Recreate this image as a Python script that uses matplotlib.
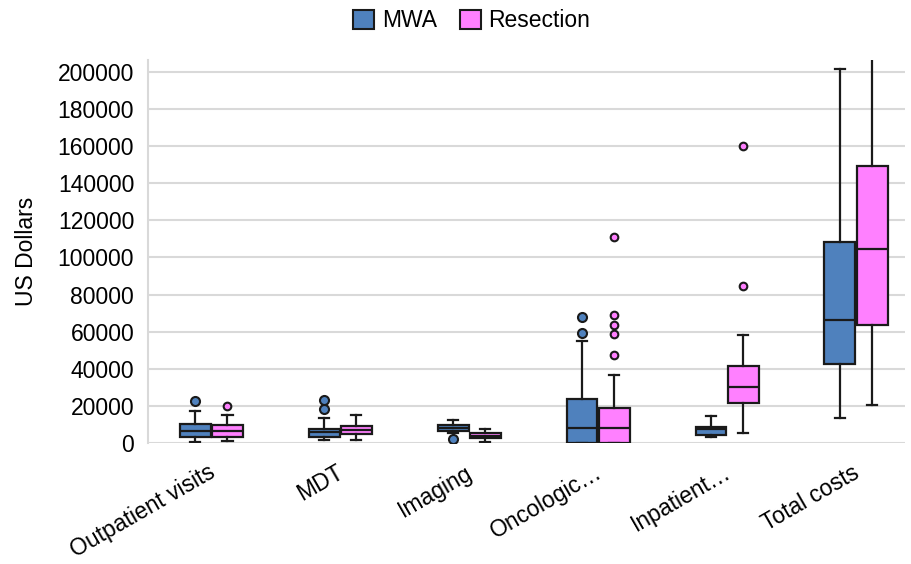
import matplotlib
matplotlib.use("Agg")
import matplotlib.pyplot as plt
import matplotlib.transforms as mtransforms
from matplotlib.patches import Patch
import numpy as np

plt.rcParams['font.family'] = ['Liberation Sans', 'DejaVu Sans']

categories = ['Outpatient visits', 'MDT', 'Imaging', 'Oncologic…', 'Inpatient…', 'Total costs']

# MWA summary stats
mwa_whislo = [500, 1600, 5500, 0, 3100, 13700]
mwa_q1 = [3200, 3100, 6600, 0, 4300, 42700]
mwa_med = [6500, 5800, 8300, 8100, 7700, 66500]
mwa_q3 = [10300, 7600, 9700, 23600, 8800, 108100]
mwa_whishi = [17300, 13700, 12300, 55100, 14800, 201600]
mwa_fliers = [[22700], [18200, 23200], [2000], [59300, 67700], [], []]

# Resection summary stats
res_whislo = [1200, 1600, 500, 0, 5600, 20400]
res_q1 = [3400, 4700, 2500, 0, 21400, 63600]
res_med = [6600, 7000, 4000, 8100, 30100, 104700]
res_q3 = [9900, 9200, 5600, 18900, 41300, 149000]
res_whishi = [15300, 15300, 7800, 36400, 58000, 230000]
res_fliers = [[20000], [], [], [47600, 58800, 63600, 68800, 111000], [84700, 160000], []]

mwa_color = '#4f81bd'
res_color = '#ff80ff'
edge = '#1a1a1a'
FS = 16.5


def make_stats(lo, q1, med, q3, hi, fl):
    return [dict(whislo=lo[i], q1=q1[i], med=med[i], q3=q3[i], whishi=hi[i],
                 fliers=fl[i]) for i in range(len(lo))]


fig = plt.figure(figsize=(9.11, 5.64), dpi=100)
ax = fig.add_axes([0.1625, 0.2145, 0.831, 0.6795])

x = np.arange(len(categories))
off = 0.125
w = 0.24

for stats, pos, color, ms in [
        (make_stats(mwa_whislo, mwa_q1, mwa_med, mwa_q3, mwa_whishi, mwa_fliers), x - off, mwa_color, 6.5),
        (make_stats(res_whislo, res_q1, res_med, res_q3, res_whishi, res_fliers), x + off, res_color, 5.5)]:
    ax.bxp(stats, positions=pos, widths=w, patch_artist=True,
           boxprops=dict(facecolor=color, edgecolor=edge, linewidth=1.6),
           medianprops=dict(color=edge, linewidth=1.6),
           whiskerprops=dict(color=edge, linewidth=1.6),
           capprops=dict(color=edge, linewidth=1.6),
           capwidths=0.08,
           flierprops=dict(marker='o', markerfacecolor=color, markeredgecolor=edge,
                           markersize=ms, markeredgewidth=1.5),
           manage_ticks=False, zorder=3)

ax.set_xlim(-0.49, 5.38)
ax.set_ylim(0, 206500)
ax.set_yticks(np.arange(0, 200001, 20000))
ax.set_yticklabels([str(v) for v in range(0, 200001, 20000)], fontsize=FS)
ax.set_xticks(x)
ax.set_xticklabels(categories, fontsize=FS, rotation=30, ha='right',
                   rotation_mode='anchor')
ax.tick_params(axis='y', length=0, pad=10)
ax.tick_params(axis='x', length=0, pad=13)
# nudge the rotated labels a little to the left
shift = mtransforms.ScaledTranslation(-4 / 100, 0, fig.dpi_scale_trans)
for lab in ax.get_xticklabels():
    lab.set_transform(lab.get_transform() + shift)
ax.yaxis.grid(True, color='#d9d9d9', linewidth=1.5, zorder=0)
ax.set_axisbelow(True)
for s in ['top', 'right', 'bottom']:
    ax.spines[s].set_visible(False)
ax.spines['left'].set_color('#d9d9d9')
ax.spines['left'].set_linewidth(1.5)
ax.set_ylabel('US Dollars', fontsize=FS, labelpad=14)

handles = [Patch(facecolor=mwa_color, edgecolor=edge, linewidth=1.5, label='MWA'),
           Patch(facecolor=res_color, edgecolor=edge, linewidth=1.5, label='Resection')]
fig.legend(handles=handles, loc='center', bbox_to_anchor=(0.518, 0.963), ncol=2,
           frameon=False, fontsize=FS, handlelength=0.9, handleheight=0.9,
           handletextpad=0.35, columnspacing=1.0)

fig.savefig('out.png', dpi=100)
